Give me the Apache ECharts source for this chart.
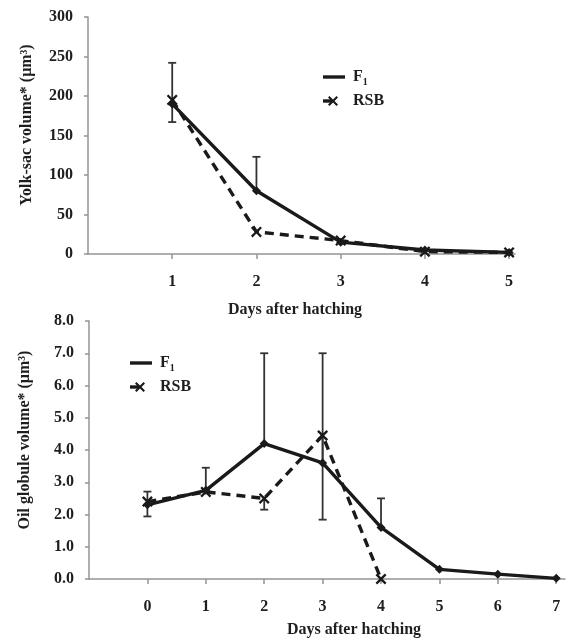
<!DOCTYPE html>
<html>
<head>
<meta charset="utf-8">
<script src="https://cdn.jsdelivr.net/npm/echarts@6/dist/echarts.min.js"></script>
<style>html,body{margin:0;padding:0;background:#fff;}#c{width:569px;height:644px;}</style>
</head>
<body>
<div id="c"></div>
<script>
// ---- Data ----
const yolkDays = [1, 2, 3, 4, 5];
const yolkF1 = [190, 80, 15, 5, 2];
const yolkRSB = [195, 28, 17, 3, 2];
// error bars: [day, from, to]
const yolkErr = [[1, 190, 242], [1, 195, 167], [2, 80, 123]];

const oilDaysF1 = [0, 1, 2, 3, 4, 5, 6, 7];
const oilF1 = [2.3, 2.75, 4.2, 3.6, 1.6, 0.3, 0.15, 0.02];
const oilDaysRSB = [0, 1, 2, 3, 4];
const oilRSB = [2.4, 2.7, 2.5, 4.45, 0.0];
const oilErr = [[0, 2.3, 2.71], [0, 2.3, 1.94], [1, 2.75, 3.45], [2, 4.2, 7.0], [2, 2.5, 2.15],
                [3, 3.6, 7.0], [3, 4.45, 1.84], [4, 1.6, 2.5]];

const yolkTicks = [0, 50, 100, 150, 200, 250, 300];
const oilTicks = [0, 1, 2, 3, 4, 5, 6, 7, 8];

const xTitle = 'Days after hatching';
const yolkTitle = 'Yolk-sac volume* (\u03bcm\u00b3)';
const oilTitle = 'Oil globule volume* (\u03bcm\u00b3)';
const seriesNames = ['F\u2081', 'RSB'];

// ---- Styles ----
const FONT = '"Liberation Serif", "DejaVu Serif", serif';
const TXT = '#1e1e1e';
const AX = '#949494';
const LINE = '#1a1a1a';
const XPTS = [[0,1.5],[1.5,0],[5,3.5],[8.5,0],[10,1.5],[6.5,5],[10,8.5],[8.5,10],[5,6.5],[1.5,10],[0,8.5],[3.5,5]];
const XSYM = 'path://M' + XPTS.map(p => p.join(',')).join('L') + 'Z';

function zip(xs, ys) { return xs.map((x, i) => [x, ys[i]]); }

function errRender(params, api) {
  const x = api.value(0), a = api.value(1), b = api.value(2);
  const p1 = api.coord([x, a]), p2 = api.coord([x, b]);
  const w = 4;
  const st = { stroke: '#333', lineWidth: 1.8 };
  return {
    type: 'group',
    children: [
      { type: 'line', shape: { x1: p1[0], y1: p1[1], x2: p2[0], y2: p2[1] }, style: st },
      { type: 'line', shape: { x1: p2[0] - w, y1: p2[1], x2: p2[0] + w, y2: p2[1] }, style: st }
    ]
  };
}

function xAxisCfg(gi, min, max) {
  const vals = gi === 0 ? yolkDays : oilDaysF1;
  return {
    type: 'value', gridIndex: gi, min: min, max: max, interval: 1,
    axisLine: { show: true, onZero: false, lineStyle: { color: AX, width: 1.5 } },
    axisTick: { show: true, length: 5, lineStyle: { color: AX, width: 1.5 }, customValues: vals },
    axisLabel: { fontFamily: FONT, fontWeight: 'bold', fontSize: 16, color: TXT, margin: 20, customValues: vals },
    splitLine: { show: false }
  };
}

function yAxisCfg(gi, ticks, fmt) {
  return {
    type: 'value', gridIndex: gi, min: ticks[0], max: ticks[ticks.length - 1],
    interval: ticks[1] - ticks[0],
    axisLine: { show: true, onZero: false, lineStyle: { color: AX, width: 1.5 } },
    axisTick: { show: true, length: 4, lineStyle: { color: AX, width: 1.5 } },
    axisLabel: { fontFamily: FONT, fontWeight: 'bold', fontSize: 16, color: TXT, margin: 15, formatter: fmt },
    splitLine: { show: false }
  };
}

function lineSeries(name, xi, data, dashed, sym, size) {
  return {
    type: 'line', name: name, xAxisIndex: xi, yAxisIndex: xi, data: data,
    symbol: sym, symbolSize: size, showSymbol: true, z: 3,
    lineStyle: { color: LINE, width: 3.4, type: dashed ? [9, 6] : 'solid' },
    itemStyle: { color: LINE },
    animation: false
  };
}

function legendGraphic(x, y) {
  return [
    { type: 'line', shape: { x1: x, y1: y, x2: x + 22, y2: y },
      style: { stroke: LINE, lineWidth: 3.4 } },
    { type: 'text', x: x + 30, y: y, style: { text: '{b|F}{s|1}', verticalAlign: 'middle', rich: {
        b: { fontFamily: FONT, fontWeight: 'bold', fontSize: 16, fill: TXT },
        s: { fontFamily: FONT, fontWeight: 'bold', fontSize: 10, fill: TXT, padding: [10, 0, 0, 0] } } } },
    { type: 'line', shape: { x1: x, y1: y + 24, x2: x + 9, y2: y + 24 },
      style: { stroke: LINE, lineWidth: 3.4 } },
    { type: 'polygon', shape: { points: XPTS.map(p => [x + 5 + p[0], y + 19 + p[1]]) },
      style: { fill: LINE } },
    { type: 'text', x: x + 30, y: y + 24,
      style: { text: 'RSB', fontFamily: FONT, fontWeight: 'bold', fontSize: 16, fill: TXT, verticalAlign: 'middle' } }
  ];
}

const chart = echarts.init(document.getElementById('c'), null, { renderer: 'canvas' });
chart.setOption({
  backgroundColor: '#fff',
  animation: false,
  grid: [
    { left: 88, top: 17, width: 427, height: 237 },
    { left: 89, top: 321, width: 476, height: 258 }
  ],
  xAxis: [xAxisCfg(0, 0, 5.07), xAxisCfg(1, -1, 7.15)],
  yAxis: [yAxisCfg(0, yolkTicks, v => String(v)), yAxisCfg(1, oilTicks, v => v.toFixed(1))],
  series: [
    { type: 'custom', xAxisIndex: 0, yAxisIndex: 0, data: yolkErr, renderItem: errRender, z: 1 },
    { type: 'custom', xAxisIndex: 1, yAxisIndex: 1, data: oilErr, renderItem: errRender, z: 1 },
    lineSeries(seriesNames[1], 0, zip(yolkDays, yolkRSB), true, XSYM, 11),
    lineSeries(seriesNames[0], 0, zip(yolkDays, yolkF1), false, 'diamond', 9),
    lineSeries(seriesNames[1], 1, zip(oilDaysRSB, oilRSB), true, XSYM, 11),
    lineSeries(seriesNames[0], 1, zip(oilDaysF1, oilF1), false, 'diamond', 9)
  ],
  graphic: [
    { type: 'text', x: 295, y: 310, style: { text: xTitle, fontFamily: FONT, fontWeight: 'bold', fontSize: 16, fill: TXT, align: 'center', verticalAlign: 'middle' } },
    { type: 'text', x: 354, y: 630, style: { text: xTitle, fontFamily: FONT, fontWeight: 'bold', fontSize: 16, fill: TXT, align: 'center', verticalAlign: 'middle' } },
    { type: 'text', x: 27, y: 125, rotation: Math.PI / 2, style: { text: yolkTitle, fontFamily: FONT, fontWeight: 'bold', fontSize: 16, fill: TXT, align: 'center', verticalAlign: 'middle' } },
    { type: 'text', x: 25, y: 440, rotation: Math.PI / 2, style: { text: oilTitle, fontFamily: FONT, fontWeight: 'bold', fontSize: 16, fill: TXT, align: 'center', verticalAlign: 'middle' } }
  ].concat(legendGraphic(323, 77), legendGraphic(130, 363))
});
</script>
</body>
</html>
